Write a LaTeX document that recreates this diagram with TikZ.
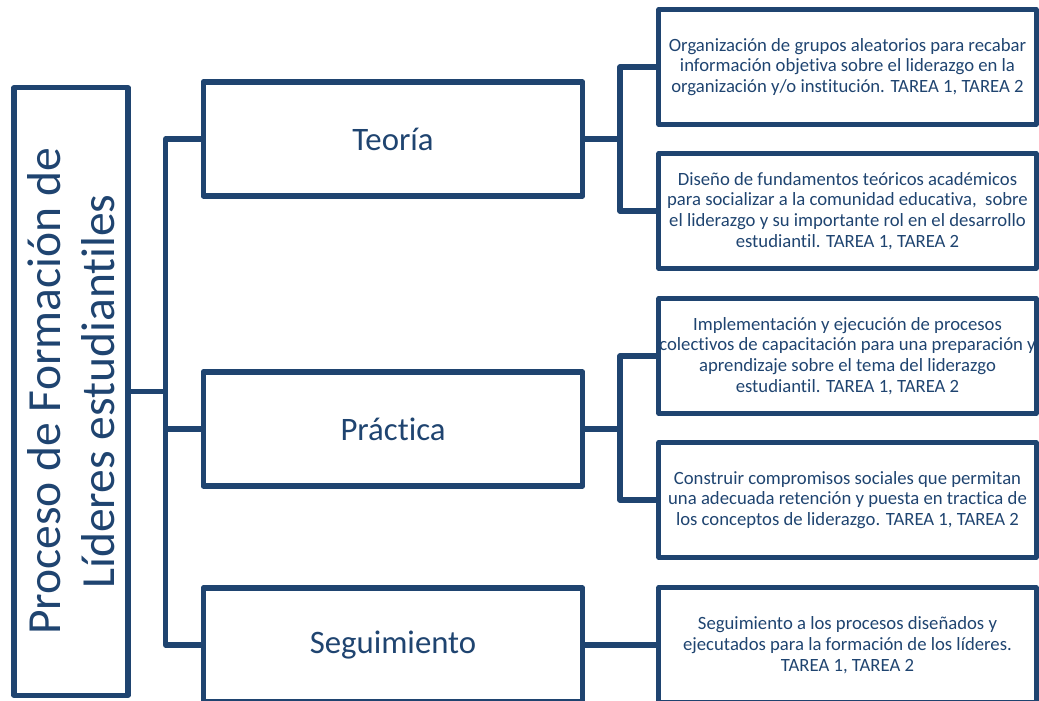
\documentclass[tikz,border=0pt]{standalone}
\usepackage{fontspec}
\setmainfont{Carlito}[Ligatures=NoCommon]
\usepackage {tikz}
\usetikzlibrary {positioning}
\usetikzlibrary{calc}
\definecolor{azul}{HTML}{1F4470}
\tikzset{
    linea/.style = {draw=azul, line width=0.13cm, line join=round},
    mainbox/.style = {linea, rectangle, inner sep=0pt, text=azul, align=center,
        minimum width=2.85cm, minimum height=15.18cm, rotate=90},
    stagebox/.style = {linea, rectangle, inner sep=0pt, text=azul, align=center,
        minimum width=9.49cm, minimum height=2.85cm, font=\fontsize{23.3}{27}\selectfont},
    taskbox/.style = {linea, rectangle, inner sep=0pt, text=azul, align=center,
        minimum width=9.43cm, minimum height=2.86cm, font=\fontsize{13.3}{14.8}\selectfont}}
\begin{document}
\begin{tikzpicture}[x=0.025cm,y=-0.025cm]
        \clip (0,0) rectangle (1039,700);
        \path (71,391.5) node[mainbox, minimum width=15.18cm, minimum height=2.85cm,
              font=\fontsize{33.8}{38}\selectfont] (proceso)
              {Proceso de Formación de\\Líderes estudiantiles}
        (393,139) node[stagebox] (teoria) {Teoría}
        (393,429) node[stagebox] (practica) {Práctica}
        (393,645) node[stagebox] (seguimiento) {Seguimiento}
        (847.5,67) node[taskbox] (org) {Organización de grupos aleatorios para recabar\\
              información objetiva sobre el liderazgo en la\\
              organización y/o institución. TAREA 1, TAREA 2}
        (847.5,211) node[taskbox] (dis) {Diseño de fundamentos teóricos académicos\\
              para socializar a la comunidad educativa,~ sobre\\
              el liderazgo y su importante rol en el desarrollo\\
              estudiantil. TAREA 1, TAREA 2}
        (847.5,356) node[taskbox] (imp) {Implementación y ejecución de procesos\\
              colectivos de capacitación para una preparación y\\
              aprendizaje sobre el tema del liderazgo\\
              estudiantil. TAREA 1, TAREA 2}
        (847.5,500) node[taskbox] (cons) {Construir compromisos sociales que permitan\\
              una adecuada retención y puesta en tractica de\\
              los conceptos de liderazgo. TAREA 1, TAREA 2}
        (847.5,645) node[taskbox] (seg) {Seguimiento a los procesos diseñados y\\
              ejecutados para la formación de los líderes.\\
              TAREA 1, TAREA 2};
        \coordinate (tronco) at (165.5,391.5);
        \coordinate (ramaT) at (620,139);
        \coordinate (ramaP) at (620,429);
        % llaves
        \draw[linea] (proceso.south) -- (tronco);
        \draw[linea] (teoria.west) -| (tronco) |- (seguimiento.west);
        \draw[linea] (practica.west) -- (practica.west -| tronco);
        \draw[linea] (teoria.east) -- (ramaT);
        \draw[linea] (org.west) -| (ramaT) |- (dis.west);
        \draw[linea] (practica.east) -- (ramaP);
        \draw[linea] (imp.west) -| (ramaP) |- (cons.west);
        \draw[linea] (seguimiento.east) -- (seg.west);
\end{tikzpicture}
\end{document}
